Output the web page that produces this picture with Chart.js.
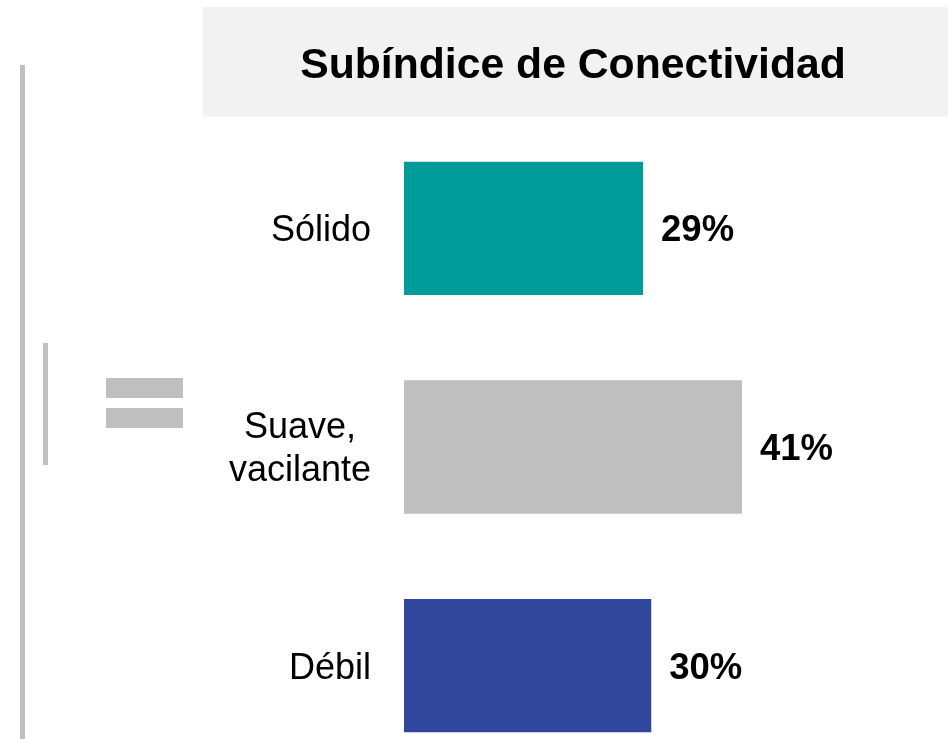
<!DOCTYPE html>
<html lang="es">
<head>
    <meta charset="UTF-8">
    <title>Subíndice de Conectividad</title>
    <script src="https://cdn.jsdelivr.net/npm/chart.js"></script>
    <style>
        html, body { margin: 0; padding: 0; background: #fff; overflow: hidden; }
        #chart { display: block; }
    </style>
</head>
<body>
    <!-- el lienzo es algo más alto que la ventana: la última barra queda al borde -->
    <canvas id="chart" width="948" height="775"></canvas>

    <script>
        // Datos
        const titulo = 'Subíndice de Conectividad';
        const categorias = [['Sólido'], ['Suave,', 'vacilante'], ['Débil']];
        const valores = [29, 41, 30];
        const etiquetas = ['29%', '41%', '30%'];
        const colores = ['#009c9a', '#bfbfbf', '#30479b'];

        const fuente = '"Liberation Sans", Arial, sans-serif';

        // Fondo, caja del título, líneas y signo "="
        const decoracion = {
            id: 'decoracion',
            beforeDraw(chart) {
                const ctx = chart.ctx;
                ctx.save();
                ctx.fillStyle = '#ffffff';
                ctx.fillRect(0, 0, chart.width, chart.height);

                ctx.fillStyle = '#f2f2f2';
                ctx.fillRect(203, 7, chart.width - 203, 110);

                ctx.fillStyle = '#c0c0c0';
                ctx.fillRect(20, 65, 5, chart.height - 65);
                ctx.fillRect(43, 343, 5, 122);

                ctx.fillStyle = '#bfbfbf';
                ctx.fillRect(106, 378, 77, 20);
                ctx.fillRect(106, 408, 77, 20);

                ctx.fillStyle = '#000';
                ctx.font = 'bold 42.7px ' + fuente;
                ctx.textAlign = 'center';
                ctx.textBaseline = 'middle';
                ctx.fillText(titulo, 573, 66);
                ctx.restore();
            },
            afterDatasetsDraw(chart) {
                const ctx = chart.ctx;
                const yScale = chart.scales.y;
                const bars = chart.getDatasetMeta(0).data;
                ctx.save();
                ctx.fillStyle = '#000';
                ctx.textBaseline = 'middle';

                // etiquetas de valor
                ctx.font = 'bold 36.5px ' + fuente;
                ctx.textAlign = 'left';
                bars.forEach((bar, i) => {
                    ctx.fillText(etiquetas[i], bar.x + 18, bar.y + 3);
                });

                // categorías (bloque alineado a la derecha, líneas centradas)
                ctx.font = '36px ' + fuente;
                ctx.textAlign = 'center';
                const derecha = 371;
                const alto = 43;
                categorias.forEach((lineas, i) => {
                    const y = yScale.getPixelForTick(i);
                    const ancho = Math.max(...lineas.map(l => ctx.measureText(l).width));
                    const cx = derecha - ancho / 2;
                    lineas.forEach((l, j) => {
                        ctx.fillText(l, cx, y + 3 + (j - (lineas.length - 1) / 2) * alto);
                    });
                });
                ctx.restore();
            }
        };

        const chart = new Chart(document.getElementById('chart'), {
            type: 'bar',
            data: {
                labels: categorias,
                datasets: [{
                    data: valores,
                    backgroundColor: colores,
                    borderWidth: 0,
                    categoryPercentage: 1,
                    barPercentage: 0.61
                }]
            },
            options: {
                indexAxis: 'y',
                responsive: false,
                animation: false,
                layout: { padding: { left: 404, right: 0, top: 119, bottom: 0 } },
                scales: {
                    x: { display: false, min: 0, max: 66 },
                    y: { display: false }
                },
                plugins: {
                    legend: { display: false },
                    tooltip: { enabled: false }
                }
            },
            plugins: [decoracion]
        });
    </script>
</body>
</html>
